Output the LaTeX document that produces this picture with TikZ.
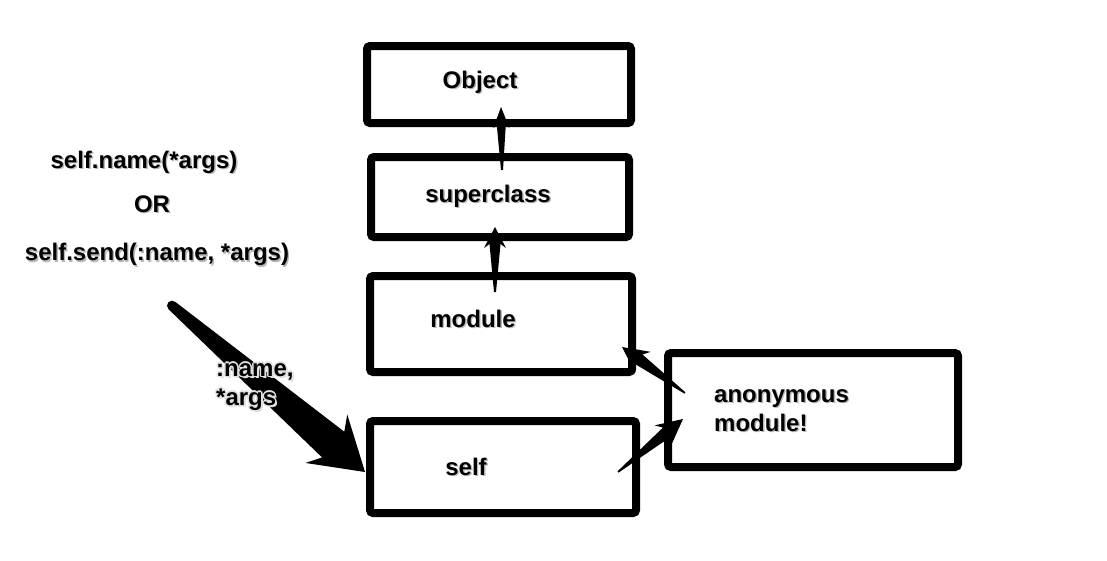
\documentclass[tikz,border=0pt]{standalone}
\usepackage{fontspec}
\setmainfont{Liberation Sans}
\usetikzlibrary{calc}

% text with a soft grey drop shadow
\newcommand\shd[1]{\rlap{\kern1.4pt\raisebox{-1.4pt}{\textcolor{black!28}{#1}}}#1}
% one offset copy of a text, used to build a light halo
\newcommand\hcopy[3]{\rlap{\kern#1\raisebox{#2}{\textcolor{black!12}{#3}}}}
% text with a light halo, readable on top of a black arrow
\newcommand\halo[1]{\hcopy{1.5pt}{0pt}{#1}\hcopy{-1.5pt}{0pt}{#1}\hcopy{0pt}{1.5pt}{#1}\hcopy{0pt}{-1.5pt}{#1}%
  \hcopy{1.1pt}{1.1pt}{#1}\hcopy{-1.1pt}{1.1pt}{#1}\hcopy{1.1pt}{-1.1pt}{#1}\hcopy{-1.1pt}{-1.1pt}{#1}%
  \hcopy{2pt}{-2pt}{#1}#1}

% tapered wedge arrow:
% #1 tail, #2 tip, #3 tail half-width, #4 shaft half-width at the head,
% #5 distance tip->shaft join, #6 head length, #7 head half-width
\newcommand\wedgearrow[7]{%
  \coordinate (hb) at ($(#2)!#6!(#1)$);
  \coordinate (hj) at ($(#2)!#5!(#1)$);
  \fill[black]
    ($(#1)!#3!90:(#2)$) -- ($(hj)!#4!90:(#2)$) -- ($(hb)!#7!90:(#2)$) -- (#2)
    -- ($(hb)!#7!-90:(#2)$) -- ($(hj)!#4!-90:(#2)$) -- ($(#1)!#3!-90:(#2)$) -- cycle;
}

\tikzset{
  box/.style={draw, line width=8pt, rounded corners=3pt, inner sep=0pt},
  lbl/.style={font=\fontsize{24}{29}\selectfont\bfseries, inner sep=0pt},
}

\begin{document}
\begin{tikzpicture}[x=1pt, y=-1pt]
  \fill[white] (0,0) rectangle (1107,560);
  \useasboundingbox (0,0) rectangle (1107,560);

  % class chain
  \node[box, minimum width=264pt, minimum height=77pt]  (obj)  at (499,84.5)  {};
  \node[box, minimum width=258pt, minimum height=80pt]  (sup)  at (500,197)   {};
  \node[box, minimum width=262pt, minimum height=96pt]  (mod)  at (501,324)   {};
  \node[box, minimum width=266pt, minimum height=92pt]  (self) at (503,467)   {};
  \node[box, minimum width=290pt, minimum height=114pt] (anon) at (813,410)   {};

  \node[lbl] (objt)  at (480,83)    {\shd{Object}};
  \node[lbl] (supt)  at (488,197)   {\shd{superclass}};
  \node[lbl] (modt)  at (473,319.5) {\shd{module}};
  \node[lbl] (selft) at (466,467.5) {\shd{self}};
  \node[lbl, anchor=west, align=left] (anont) at (714,411) {\shd{anonymous}\\\shd{module!}};

  % call forms
  \node[lbl] (call1) at (144,163)   {\shd{self.name(*args)}};
  \node[lbl] (call2) at (152,204.5) {\shd{OR}};
  \node[lbl] (call3) at (157,255.5) {\shd{self.send(:name, *args)}};

  % arrow end points
  \coordinate (a1s) at ($(sup.north)+(2,17)$);
  \coordinate (a1e) at ($(obj.south)+(2,-20)$);
  \coordinate (a2s) at ($(mod.north)+(-6,20)$);
  \coordinate (a2e) at ($(sup.south)+(-5,-14)$);
  \coordinate (a3s) at ($(anon.west)+(21,-17)$);
  \coordinate (a3e) at ($(mod.south east)+(-14,-29)$);
  \coordinate (a4s) at ($(self.east)+(-22,5)$);
  \coordinate (a4e) at ($(anon.west)+(19,9)$);
  \coordinate (a5s) at ($(call3.south)+(15,38)$);
  \coordinate (a5e) at ($(self.west)+(-1,5)$);

  % connectors
  \wedgearrow{a1s}{a1e}{1pt}{4.5pt}{18pt}{21pt}{8pt}
  \wedgearrow{a2s}{a2e}{1pt}{5.5pt}{17pt}{21pt}{11pt}
  \wedgearrow{a3s}{a3e}{0.8pt}{6pt}{21pt}{26pt}{13pt}
  \wedgearrow{a4s}{a4e}{0.8pt}{6pt}{21pt}{26pt}{13pt}
  \wedgearrow{a5s}{a5e}{5pt}{17pt}{42pt}{51pt}{32pt}
  \fill[black] (a5s) circle (5pt);

  % argument label sits on top of the big arrow
  \node[lbl, anchor=west, align=left] (argt) at (216,387) {\halo{:name,}\\\halo{*args}};
\end{tikzpicture}
\end{document}
